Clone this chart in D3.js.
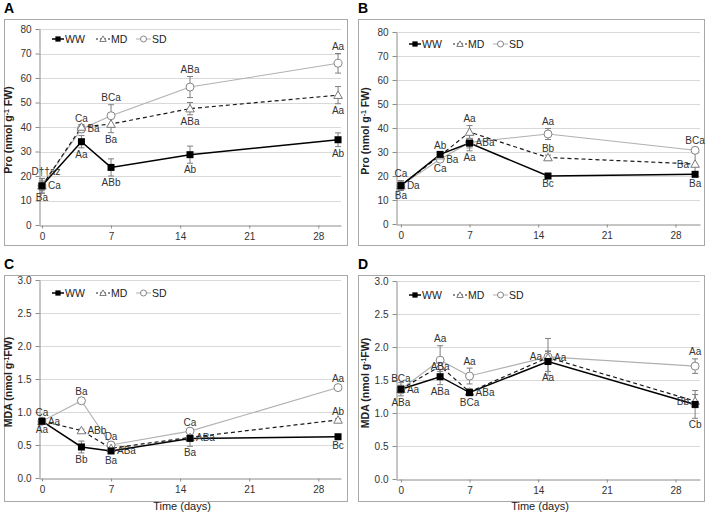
<!DOCTYPE html>
<html>
<head>
<meta charset="utf-8">
<script src="https://cdn.jsdelivr.net/npm/d3@7"></script>
<style>
  body { margin: 0; background: #fff; }
  svg { font-family: "Liberation Sans", Arial, sans-serif; }
</style>
</head>
<body>
<svg id="chart" width="708" height="518"></svg>
<script>
// sampling days and axis ticks
const days = [0, 4, 7, 15, 30];
const xTicks = [0, 7, 14, 21, 28];

// A - proline, first trial
const aWW = [16, 34, 23.5, 28.7, 34.8];
const aMD = [16, 40, 41.2, 47.5, 53];
const aSD = [16, 39.2, 44.6, 56.3, 66];
const aWWerr = [2, 2.5, 3.5, 3.5, 2.8];
const aMDerr = [3, 1, 3.5, 2.5, 3.5];
const aSDerr = [3, 1.5, 4.5, 4.3, 4];
const aLabels = [
    ["SD", 0, "D††az", "aboveRight"], ["MD", 0, "Ca", "right"], ["WW", 0, "Ba", "below"],
    ["SD", 1, "Ca", "above"], ["SD", 1, "Ba", "right"], ["WW", 1, "Aa", "below"],
    ["SD", 2, "BCa", "above"], ["MD", 2, "Ba", "below"], ["WW", 2, "ABb", "below"],
    ["SD", 3, "ABa", "above"], ["MD", 3, "ABa", "below"], ["WW", 3, "Ab", "below"],
    ["SD", 4, "Aa", "above"], ["MD", 4, "Aa", "below"], ["WW", 4, "Ab", "below"]
];

// B - proline, second trial
const bWW = [16, 29, 33.7, 20, 20.7];
const bMD = [16, 28.5, 38.3, 27.7, 25];
const bSD = [16, 27, 34, 37.5, 30.7];
const bWWerr = [1.5, 1, 2, 0.5, 1];
const bMDerr = [2, 1, 2.7, 1, 4.5];
const bSDerr = [2, 1, 3.5, 2.3, 1];
const bLabels = [
    ["SD", 0, "Ca", "above"], ["MD", 0, "Da", "right"], ["WW", 0, "Ba", "below"],
    ["WW", 1, "Ab", "above"], ["SD", 1, "Ba", "right"], ["SD", 1, "Ca", "below"],
    ["MD", 2, "Aa", "above"], ["SD", 2, "ABa", "right"], ["SD", 2, "Aa", "below"],
    ["SD", 3, "Aa", "above"], ["MD", 3, "Bb", "above"], ["WW", 3, "Bc", "below"],
    ["SD", 4, "BCa", "above"], ["MD", 4, "Ba", "left"], ["WW", 4, "Ba", "below"]
];

// C - MDA, first trial
const cWW = [0.86, 0.47, 0.41, 0.6, 0.625];
const cMD = [0.86, 0.72, 0.45, 0.615, 0.88];
const cSD = [0.86, 1.17, 0.5, 0.71, 1.37];
const cWWerr = [0.03, 0.09, 0.04, 0.12, 0.03];
const cMDerr = [0.02, 0.02, 0.03, 0.02, 0.02];
const cSDerr = [0.02, 0.04, 0.03, 0.03, 0.03];
const cLabels = [
    ["SD", 0, "Ca", "above"], ["MD", 0, "Aa", "right"], ["WW", 0, "Aa", "below"],
    ["SD", 1, "Ba", "above"], ["MD", 1, "ABb", "right"], ["WW", 1, "Bb", "below"],
    ["SD", 2, "Da", "above"], ["WW", 2, "ABa", "right"], ["WW", 2, "Ba", "below"],
    ["SD", 3, "Ca", "above"], ["MD", 3, "ABa", "right"], ["WW", 3, "Ba", "below"],
    ["SD", 4, "Aa", "above"], ["MD", 4, "Ab", "above"], ["WW", 4, "Bc", "below"]
];

// D - MDA, second trial
const dWW = [1.36, 1.55, 1.31, 1.78, 1.13];
const dMD = [1.36, 1.71, 1.32, 1.84, 1.18];
const dSD = [1.36, 1.8, 1.56, 1.85, 1.71];
const dWWerr = [0.1, 0.12, 0.05, 0.15, 0.21];
const dMDerr = [0.05, 0.08, 0.05, 0.1, 0.1];
const dSDerr = [0.06, 0.22, 0.12, 0.28, 0.11];
const dLabels = [
    ["SD", 0, "BCa", "above"], ["MD", 0, "Aa", "right"], ["WW", 0, "ABa", "below"],
    ["SD", 1, "Aa", "above"], ["MD", 1, "ABa", "center"], ["WW", 1, "ABa", "below"],
    ["SD", 2, "Aa", "above"], ["WW", 2, "ABa", "right"], ["WW", 2, "BCa", "below"],
    ["SD", 3, "Aa", "left"], ["MD", 3, "Aa", "right"], ["WW", 3, "Aa", "below"],
    ["SD", 4, "Aa", "above"], ["MD", 4, "Bb", "left"], ["WW", 4, "Cb", "below"]
];

const seriesNames = ["WW", "MD", "SD"];
const style = {
    WW: {stroke: "#000", width: 1.5, dash: null},
    MD: {stroke: "#1a1a1a", width: 1.2, dash: "4,3"},
    SD: {stroke: "#b0b0b0", width: 1.1, dash: null}
};

// layout of the four panels
const panels = [
    {letter: "A", frame: [4, 19, 347, 245], xr: [39, 341], xd: [-0.3, 30.3], yr: [225, 29], yd: [0, 80], step: 10, fmt: d3.format("d"),
     ytitle: ["Pro (nmol g", "-1", " FW)"], legendY: 39, time: false,
     vals: {WW: aWW, MD: aMD, SD: aSD}, errs: {WW: aWWerr, MD: aMDerr, SD: aSDerr}, labels: aLabels},
    {letter: "B", frame: [358, 19, 704, 245], xr: [396, 700], xd: [-0.5, 30.5], yr: [224, 32], yd: [0, 80], step: 10, fmt: d3.format("d"),
     ytitle: ["Pro (nmol g", "-1", " FW)"], legendY: 44, time: false,
     vals: {WW: bWW, MD: bMD, SD: bSD}, errs: {WW: bWWerr, MD: bMDerr, SD: bSDerr}, labels: bLabels},
    {letter: "C", frame: [4, 275, 347, 501], xr: [39, 341], xd: [-0.3, 30.3], yr: [478, 280], yd: [0, 3], step: 0.5, fmt: d3.format(".1f"),
     ytitle: ["MDA (nmol g", "-1", "FW)"], legendY: 293, time: true,
     vals: {WW: cWW, MD: cMD, SD: cSD}, errs: {WW: cWWerr, MD: cMDerr, SD: cSDerr}, labels: cLabels},
    {letter: "D", frame: [358, 275, 704, 501], xr: [396, 700], xd: [-0.5, 30.5], yr: [479, 281], yd: [0, 3], step: 0.5, fmt: d3.format(".1f"),
     ytitle: ["MDA (nmol g", "-1", "FW)"], legendY: 295, time: true,
     vals: {WW: dWW, MD: dMD, SD: dSD}, errs: {WW: dWWerr, MD: dMDerr, SD: dSDerr}, labels: dLabels}
];

const svg = d3.select("#chart");

function drawMarker(sel, name, cx, cy, k = 1) {
    if (name === "WW") {
        sel.append("rect")
            .attr("x", cx - 3.5 * k).attr("y", cy - 3.5 * k)
            .attr("width", 7 * k).attr("height", 7 * k)
            .attr("fill", "#000");
    } else if (name === "MD") {
        sel.append("path")
            .attr("d", d3.symbol(d3.symbolTriangle, 32 * k * k)())
            .attr("transform", `translate(${cx},${cy + 0.8 * k})`)
            .attr("fill", "#fff")
            .attr("stroke", "#7a7a7a")
            .attr("stroke-width", 1);
    } else {
        sel.append("circle")
            .attr("cx", cx).attr("cy", cy).attr("r", 4 * k)
            .attr("fill", "#fff")
            .attr("stroke", "#858585")
            .attr("stroke-width", 1);
    }
}

panels.forEach(p => {
    const g = svg.append("g");
    const x = d3.scaleLinear().domain(p.xd).range(p.xr);
    const y = d3.scaleLinear().domain(p.yd).range(p.yr);
    const yTicks = d3.range(0, p.yd[1] + p.step / 2, p.step);

    // outer frame
    g.append("rect")
        .attr("x", p.frame[0] + 0.5).attr("y", p.frame[1] + 0.5)
        .attr("width", p.frame[2] - p.frame[0]).attr("height", p.frame[3] - p.frame[1])
        .attr("fill", "none").attr("stroke", "#a8a8a8");

    // panel letter
    g.append("text")
        .attr("x", p.frame[0]).attr("y", p.frame[1] - 6)
        .attr("font-size", 14).attr("font-weight", "bold")
        .text(p.letter);

    // horizontal grid
    g.selectAll(".grid").data(yTicks.filter(v => v > 0)).join("line")
        .attr("x1", p.xr[0]).attr("x2", p.xr[1])
        .attr("y1", d => Math.round(y(d)) + 0.5).attr("y2", d => Math.round(y(d)) + 0.5)
        .attr("stroke", "#d9d9d9");

    // axes
    g.append("g")
        .attr("transform", `translate(${p.xr[0] + 0.5},0)`)
        .call(d3.axisLeft(y).tickValues(yTicks).tickFormat(p.fmt).tickSize(4).tickSizeOuter(0).tickPadding(4))
        .call(a => a.selectAll("path, line").attr("stroke", "#8c8c8c"))
        .call(a => a.selectAll("text").attr("fill", "#333").attr("font-size", 10).attr("font-family", null));
    g.append("g")
        .attr("transform", `translate(0,${Math.round(y(0)) + 0.5})`)
        .call(d3.axisBottom(x).tickValues(xTicks).tickSize(3).tickSizeOuter(0).tickPadding(4))
        .call(a => a.selectAll("path, line").attr("stroke", "#8c8c8c"))
        .call(a => a.selectAll("text").attr("fill", "#333").attr("font-size", 10).attr("font-family", null));

    // y title
    const yt = g.append("text")
        .attr("transform", `translate(${p.xr[0] - 27},${(p.yr[0] + p.yr[1]) / 2 + 3}) rotate(-90)`)
        .attr("text-anchor", "middle")
        .attr("font-size", 10.5).attr("font-weight", "bold").attr("fill", "#222");
    yt.append("tspan").text(p.ytitle[0]);
    yt.append("tspan").attr("baseline-shift", "super").attr("font-size", 7).text(p.ytitle[1]);
    yt.append("tspan").text(p.ytitle[2]);

    if (p.time) {
        g.append("text")
            .attr("x", (p.xr[0] + p.xr[1]) / 2 - 8).attr("y", 510)
            .attr("text-anchor", "middle")
            .attr("font-size", 11).attr("fill", "#222")
            .text("Time (days)");
    }

    // series, light ones first so WW sits on top
    const order = ["SD", "MD", "WW"];
    order.forEach(name => {
        const vals = p.vals[name], errs = p.errs[name];
        const eb = g.append("g").attr("stroke", "#7f7f7f").attr("stroke-width", 1);
        days.forEach((d, i) => {
            const cx = x(d);
            eb.append("line").attr("x1", cx).attr("x2", cx)
                .attr("y1", y(vals[i] + errs[i])).attr("y2", y(vals[i] - errs[i]));
            eb.append("line").attr("x1", cx - 3).attr("x2", cx + 3)
                .attr("y1", y(vals[i] + errs[i])).attr("y2", y(vals[i] + errs[i]));
            eb.append("line").attr("x1", cx - 3).attr("x2", cx + 3)
                .attr("y1", y(vals[i] - errs[i])).attr("y2", y(vals[i] - errs[i]));
        });
        const line = d3.line().x((d, i) => x(days[i])).y(d => y(d));
        g.append("path")
            .datum(vals)
            .attr("d", line)
            .attr("fill", "none")
            .attr("stroke", style[name].stroke)
            .attr("stroke-width", style[name].width)
            .attr("stroke-dasharray", style[name].dash);
    });
    order.forEach(name => {
        const mg = g.append("g");
        days.forEach((d, i) => drawMarker(mg, name, x(d), y(p.vals[name][i])));
    });

    // significance letters
    g.append("g").selectAll("text").data(p.labels).join("text")
        .attr("font-size", 10).attr("fill", "#333")
        .attr("dominant-baseline", "central")
        .each(function ([name, i, txt, side]) {
            const v = p.vals[name][i], e = p.errs[name][i];
            const cx = x(days[i]);
            let tx = cx, ty = y(v), anchor = "middle";
            if (side === "above") ty = y(v + e) - 7;
            else if (side === "aboveRight") { tx = cx + 4; ty = y(v + e) - 7; }
            else if (side === "below") ty = y(v - e) + 6.5;
            else if (side === "right") { tx = cx + 6; anchor = "start"; }
            else if (side === "left") { tx = cx - 6; anchor = "end"; }
            d3.select(this).attr("x", tx).attr("y", ty).attr("text-anchor", anchor).text(txt);
        });

    // legend
    const lg = g.append("g").attr("transform", `translate(${p.xr[0]},${p.legendY})`);
    const legendPos = {WW: [13, 25, 19, 26], MD: [57, 71, 64, 72], SD: [97, 112, 104.5, 113]};
    seriesNames.forEach(name => {
        const [x1, x2, mx, tx] = legendPos[name];
        lg.append("line").attr("x1", x1).attr("x2", x2).attr("y1", 0).attr("y2", 0)
            .attr("stroke", style[name].stroke).attr("stroke-width", name === "WW" ? 1.5 : 1)
            .attr("stroke-dasharray", name === "MD" ? "2,2" : null);
        drawMarker(lg, name, mx, 0, 0.75);
        lg.append("text").attr("x", tx).attr("y", 0)
            .attr("dominant-baseline", "central")
            .attr("font-size", 10.5).attr("fill", "#222")
            .text(name);
    });
});
</script>
</body>
</html>
